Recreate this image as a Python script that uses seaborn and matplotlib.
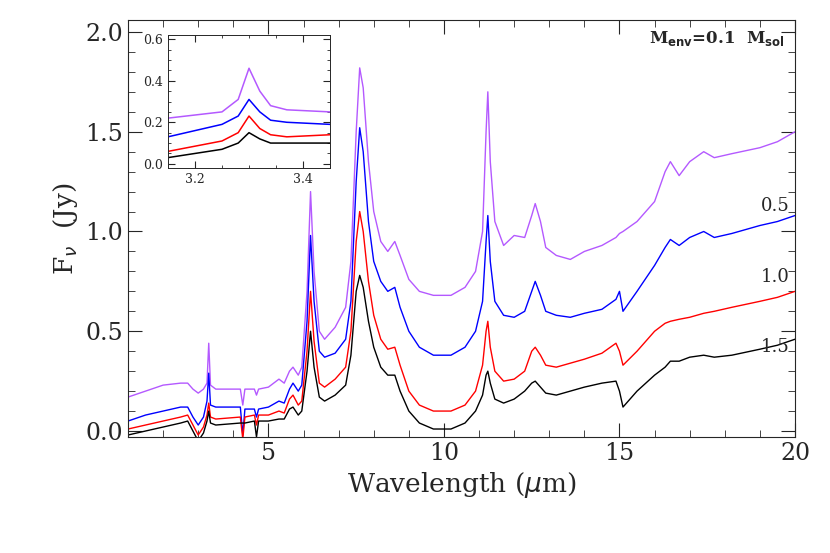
import matplotlib
matplotlib.use('Agg')
import matplotlib.pyplot as plt
import seaborn as sns
from matplotlib.ticker import MultipleLocator

# ── Data ─────────────────────────────────────────────────────────────────────
wave = [1, 1.5, 2.0, 2.5, 2.7, 2.85, 3.0, 3.15, 3.25, 3.3, 3.35, 3.5, 4.2, 4.27, 4.33, 4.6, 4.66, 4.72,
        5.0, 5.3, 5.45, 5.6, 5.7, 5.85, 5.95, 6.1, 6.2, 6.3, 6.45, 6.6, 6.9, 7.2, 7.35, 7.5, 7.6, 7.7,
        7.85, 8.0, 8.2, 8.4, 8.6, 8.75, 9.0, 9.3, 9.7, 10.2, 10.6, 10.9, 11.1, 11.2, 11.25, 11.32, 11.45,
        11.7, 12.0, 12.3, 12.5, 12.6, 12.75, 12.9, 13.2, 13.6, 14.0, 14.5, 14.9, 15.0, 15.1, 15.5, 16.0,
        16.3, 16.45, 16.7, 17.0, 17.4, 17.7, 18.2, 19.0, 19.5, 20]
purple_y = [0.17, 0.20, 0.23, 0.24, 0.24, 0.21, 0.19, 0.21, 0.24, 0.44, 0.23, 0.21, 0.21, 0.13, 0.21, 0.21, 0.18, 0.21,
            0.22, 0.26, 0.24, 0.30, 0.32, 0.28, 0.32, 0.70, 1.20, 0.80, 0.50, 0.46, 0.52, 0.62, 0.85, 1.50, 1.82, 1.72,
            1.35, 1.10, 0.95, 0.90, 0.95, 0.88, 0.76, 0.70, 0.68, 0.68, 0.72, 0.80, 1.00, 1.50, 1.70, 1.35, 1.05,
            0.93, 0.98, 0.97, 1.08, 1.14, 1.05, 0.92, 0.88, 0.86, 0.90, 0.93, 0.97, 0.99, 1.00, 1.05, 1.15,
            1.30, 1.35, 1.28, 1.35, 1.40, 1.37, 1.39, 1.42, 1.45, 1.50]
blue_y = [0.05, 0.08, 0.10, 0.12, 0.12, 0.07, 0.03, 0.07, 0.15, 0.29, 0.13, 0.12, 0.12, -0.02, 0.11, 0.11, 0.07, 0.11,
          0.12, 0.15, 0.14, 0.21, 0.24, 0.20, 0.23, 0.55, 0.98, 0.65, 0.40, 0.37, 0.39, 0.46, 0.65, 1.25, 1.52, 1.40,
          1.05, 0.85, 0.75, 0.70, 0.72, 0.62, 0.50, 0.42, 0.38, 0.38, 0.42, 0.50, 0.65, 0.95, 1.08, 0.85, 0.65,
          0.58, 0.57, 0.60, 0.70, 0.75, 0.68, 0.60, 0.58, 0.57, 0.59, 0.61, 0.66, 0.70, 0.60, 0.70, 0.83,
          0.92, 0.96, 0.93, 0.97, 1.00, 0.97, 0.99, 1.03, 1.05, 1.08]
red_y = [0.01, 0.03, 0.05, 0.07, 0.08, 0.03, -0.02, 0.02, 0.08, 0.14, 0.07, 0.06, 0.07, -0.04, 0.07, 0.08, 0.03, 0.08,
         0.08, 0.10, 0.09, 0.16, 0.18, 0.13, 0.15, 0.40, 0.70, 0.45, 0.24, 0.22, 0.26, 0.32, 0.50, 0.95, 1.10, 1.00,
         0.75, 0.58, 0.46, 0.41, 0.42, 0.33, 0.20, 0.13, 0.10, 0.10, 0.13, 0.20, 0.33, 0.50, 0.55, 0.42, 0.30,
         0.25, 0.26, 0.30, 0.40, 0.42, 0.38, 0.33, 0.32, 0.34, 0.36, 0.39, 0.44, 0.40, 0.33, 0.40, 0.50,
         0.54, 0.55, 0.56, 0.57, 0.59, 0.60, 0.62, 0.65, 0.67, 0.70]
black_y = [-0.02, 0.00, 0.02, 0.04, 0.05, 0.00, -0.05, -0.01, 0.05, 0.10, 0.04, 0.03, 0.04, 0.04, 0.04, 0.05, -0.03, 0.05,
           0.05, 0.06, 0.06, 0.11, 0.12, 0.08, 0.10, 0.30, 0.50, 0.32, 0.17, 0.15, 0.18, 0.23, 0.38, 0.70, 0.78, 0.72,
           0.55, 0.42, 0.32, 0.28, 0.28, 0.20, 0.10, 0.04, 0.01, 0.01, 0.04, 0.10, 0.18, 0.28, 0.30, 0.24, 0.16,
           0.14, 0.16, 0.20, 0.24, 0.25, 0.22, 0.19, 0.18, 0.20, 0.22, 0.24, 0.25, 0.20, 0.12, 0.20, 0.28,
           0.32, 0.35, 0.35, 0.37, 0.38, 0.37, 0.38, 0.41, 0.43, 0.46]

inset_x = [3.15, 3.25, 3.28, 3.30, 3.32, 3.34, 3.37, 3.45]
inset_purple = [0.22, 0.25, 0.31, 0.46, 0.35, 0.28, 0.26, 0.25]
inset_blue = [0.13, 0.19, 0.23, 0.31, 0.25, 0.21, 0.20, 0.19]
inset_red = [0.06, 0.11, 0.15, 0.23, 0.17, 0.14, 0.13, 0.14]
inset_black = [0.03, 0.07, 0.10, 0.15, 0.12, 0.10, 0.10, 0.10]

colors = {'purple': '#b459ff', 'blue': '#0000ff', 'red': '#ff0000', 'black': '#000000'}
right_labels = ['0.5', '1.0', '1.5']
right_label_y = [1.13, 0.77, 0.42]

sns.set_style('ticks')
plt.rcParams['font.family'] = ['DejaVu Serif']

fig = plt.figure(figsize=(8.3, 5.53), dpi=100)
ax = fig.add_axes([128 / 830, 1 - 437 / 553, (795 - 128) / 830, (437 - 20) / 553])

for ys, c in zip([purple_y, blue_y, red_y, black_y], ['purple', 'blue', 'red', 'black']):
    sns.lineplot(x=wave, y=ys, ax=ax, color=colors[c], lw=1.0, sort=False)

ax.set_xlim(1, 20)
ax.set_ylim(-0.03, 2.06)
ax.xaxis.set_major_locator(MultipleLocator(5))
ax.xaxis.set_minor_locator(MultipleLocator(1))
ax.yaxis.set_major_locator(MultipleLocator(0.5))
ax.yaxis.set_minor_locator(MultipleLocator(0.1))
ax.tick_params(which='both', direction='in', top=True, right=True, labelsize=17)
ax.tick_params(which='major', length=10)
ax.tick_params(which='minor', length=5)
ax.set_xlabel(r'Wavelength ($\mu$m)', fontsize=19)
ax.set_ylabel(r'F$_\nu$  (Jy)', fontsize=19)

ax.text(0.985, 0.955, r'M$_{\mathbf{env}}$=0.1  M$_{\mathbf{sol}}$', transform=ax.transAxes,
        ha='right', va='center', fontsize=12, fontweight='bold')
for lab, yv in zip(right_labels, right_label_y):
    ax.text(19.85, yv, lab, ha='right', va='center', fontsize=13)

# Inset
ins = fig.add_axes([168 / 830, 1 - 168 / 553, (330 - 168) / 830, (168 - 35) / 553])
for ys, c in zip([inset_purple, inset_blue, inset_red, inset_black], ['purple', 'blue', 'red', 'black']):
    sns.lineplot(x=inset_x, y=ys, ax=ins, color=colors[c], lw=1.1)
ins.set_xlim(3.15, 3.45)
ins.set_ylim(-0.02, 0.62)
ins.xaxis.set_major_locator(MultipleLocator(0.2))
ins.xaxis.set_minor_locator(MultipleLocator(0.05))
ins.yaxis.set_major_locator(MultipleLocator(0.2))
ins.yaxis.set_minor_locator(MultipleLocator(0.05))
ins.tick_params(which='both', direction='in', top=True, right=True, labelsize=9)
ins.tick_params(which='major', length=5)
ins.tick_params(which='minor', length=2.5)
for s in ins.spines.values():
    s.set_linewidth(0.7)

fig.savefig('out.png', dpi=100)
